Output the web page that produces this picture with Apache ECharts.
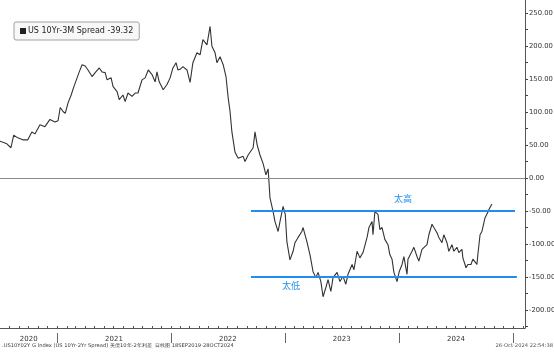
<!DOCTYPE html>
<html>
<head>
<meta charset="utf-8">
<script src="https://cdn.jsdelivr.net/npm/echarts@6/dist/echarts.min.js"></script>
<style>
  html, body { margin: 0; padding: 0; background: #fff; }
  #main { width: 554px; height: 352px; }
</style>
</head>
<body>
<div id="main"></div>
<script>
var seriesName = 'US 10Yr-3M Spread';

var dates = [
  '2020-06-16','2020-07-02','2020-07-24','2020-08-06','2020-08-15','2020-08-28','2020-09-13','2020-09-29',
  '2020-10-12','2020-10-22','2020-11-07','2020-11-23','2020-12-09','2020-12-25',
  '2021-01-04','2021-01-11','2021-01-20','2021-01-27','2021-02-05','2021-02-15','2021-02-24','2021-03-06',
  '2021-03-12','2021-03-22','2021-04-01','2021-04-10','2021-04-23','2021-05-03','2021-05-16','2021-05-25',
  '2021-06-04','2021-06-10','2021-06-23','2021-06-29','2021-07-12','2021-07-19','2021-07-31','2021-08-07',
  '2021-08-16','2021-08-29','2021-09-08','2021-09-17','2021-09-30','2021-10-10','2021-10-20','2021-11-01',
  '2021-11-11','2021-11-17','2021-11-24','2021-12-07','2021-12-19','2021-12-29',
  '2022-01-07','2022-01-17','2022-01-23','2022-01-30','2022-02-08','2022-02-21','2022-03-03','2022-03-12',
  '2022-03-25','2022-04-04','2022-04-13','2022-04-26','2022-05-06','2022-05-12','2022-05-22','2022-05-28',
  '2022-06-07','2022-06-17','2022-06-26','2022-07-03','2022-07-09','2022-07-15','2022-07-25','2022-08-04',
  '2022-08-10','2022-08-20','2022-08-26','2022-09-05','2022-09-11','2022-09-21','2022-09-27','2022-10-04',
  '2022-10-13','2022-10-23','2022-11-01','2022-11-08','2022-11-14','2022-11-24','2022-11-30','2022-12-10',
  '2022-12-16','2022-12-26',
  '2023-01-02','2023-01-07','2023-01-17','2023-01-27','2023-02-02','2023-02-12','2023-02-24','2023-02-28',
  '2023-03-12','2023-03-22','2023-04-01','2023-04-10','2023-04-17','2023-04-26','2023-05-03','2023-05-12',
  '2023-05-19','2023-05-28','2023-06-04','2023-06-17','2023-06-26','2023-07-06','2023-07-15','2023-07-22',
  '2023-08-04','2023-08-10','2023-08-20','2023-08-29','2023-09-08','2023-09-21','2023-09-27','2023-10-07',
  '2023-10-10','2023-10-16','2023-10-26','2023-11-01','2023-11-08','2023-11-17','2023-11-27','2023-12-03',
  '2023-12-10','2023-12-16','2023-12-26',
  '2024-01-02','2024-01-11','2024-01-17','2024-01-27','2024-01-30','2024-02-12','2024-02-18','2024-02-28',
  '2024-03-05','2024-03-15','2024-03-21','2024-03-31','2024-04-06','2024-04-16','2024-04-22','2024-05-02',
  '2024-05-08','2024-05-18','2024-05-24','2024-06-03','2024-06-09','2024-06-19','2024-06-25','2024-07-05',
  '2024-07-11','2024-07-21','2024-07-24','2024-08-03','2024-08-09','2024-08-19','2024-08-25','2024-09-07',
  '2024-09-10','2024-09-17','2024-09-23','2024-10-03','2024-10-12','2024-10-15','2024-10-25'
];

var spread = [
  55, 56, 52, 46, 65, 61, 58, 58,
  70, 67, 81, 78, 89, 85,
  87, 107, 101, 98, 114, 126, 139, 152,
  160, 172, 170, 164, 154, 160, 167, 161,
  160, 149, 152, 139, 131, 119, 126, 116,
  129, 124, 129, 129, 149, 152, 164, 157,
  146, 161, 146, 134, 142, 152,
  167, 175, 164, 165, 169, 164, 145, 175,
  190, 187, 210, 202, 230, 200, 190, 175,
  184, 172, 154, 122, 101, 70, 39, 30,
  31, 33, 25, 35, 33, 46, 70, 50,
  35, 22, 5, 14, -30, -51, -66, -81,
  -66, -43,
  -55, -96, -124, -111, -98, -90, -81, -75,
  -96, -116, -142, -151, -143, -157, -180, -166,
  -154, -172, -151, -143, -157, -149, -161, -146,
  -131, -139, -111, -121, -113, -90, -75, -66,
  -86, -51, -55, -78, -75, -93, -101, -116,
  -123, -143, -157,
  -142, -131, -119, -146, -123, -111, -105, -119,
  -126, -108, -111, -101, -86, -70, -75, -83,
  -90, -98, -86, -98, -111, -101, -111, -105,
  -113, -108, -121, -136, -131, -131, -123, -131,
  -116, -86, -81, -60, -52, -48, -39.32
];

var xStart = '2020-07-02';
var xEnd = '2025-02-08';
var yMin = -227.4;
var yMax = 270.1;
var yTickValues = [-225, -200, -175, -150, -125, -100, -75, -50, -25, 0, 25, 50, 75, 100, 125, 150, 175, 200, 225, 250];
var yLabelValues = [-200, -150, -100, -50, 0, 50, 100, 150, 200, 250];
var yearNames = ['2020', '2021', '2022', '2023', '2024'];
var yearLabelDates = ['2020-10-02', '2021-07-02', '2022-07-02', '2023-07-02', '2024-07-02'];
var yearStarts = ['2021-01-01', '2022-01-01', '2023-01-01', '2024-01-01', '2025-01-01'];

var highLevel = -50, lowLevel = -150;
var bandFrom = '2022-09-14', highTo = '2025-01-07', lowTo = '2025-01-13';
var highText = '太高', lowText = '太低';
var highTextAt = ['2024-01-14', -31.7];
var lowTextAt = ['2023-01-20', -163.7];

function ts(s) {
  var p = s.split('-');
  return new Date(+p[0], +p[1] - 1, +p[2]).getTime();
}

var lastValue = spread[spread.length - 1];
var seriesData = dates.map(function (d, i) { return [ts(d), spread[i]]; });
var yearLabelTs = yearLabelDates.map(ts);

// monthly minor ticks along the bottom
var monthTicks = [];
for (var y = 2020; y <= 2025; y++) {
  for (var m = 0; m < 12; m++) {
    var t = new Date(y, m, 1).getTime();
    if (t > ts(xStart) && t < ts(xEnd)) monthTicks.push(t);
  }
}

var blue = '#1f8ef1';
var chart = echarts.init(document.getElementById('main'));

var option = {
  animation: false,
  backgroundColor: '#fff',
  grid: { left: 0, right: 29, top: 0, bottom: 24, outerBoundsMode: 'none' },
  legend: {
    left: 14,
    top: 22,
    padding: [5, 6, 5, 6],
    backgroundColor: '#f8f8f8',
    borderColor: '#a0a0a0',
    borderWidth: 1,
    borderRadius: 2,
    icon: 'rect',
    itemWidth: 6,
    itemHeight: 6,
    itemGap: 2,
    textStyle: { fontFamily: 'DejaVu Sans', fontSize: 8, color: '#222', padding: [0, 0, 0, -3] },
    formatter: function (name) { return name + ' ' + lastValue.toFixed(2); },
    data: [seriesName]
  },
  xAxis: [{
    type: 'value',
    min: ts(xStart),
    max: ts(xEnd),
    axisLine: { show: true, onZero: false, lineStyle: { color: '#555', width: 1 } },
    axisTick: { show: true, inside: true, length: 2, customValues: monthTicks, lineStyle: { color: '#555' } },
    axisLabel: {
      customValues: yearLabelTs,
      formatter: function (v) {
        var i = yearLabelTs.indexOf(v);
        return i >= 0 ? yearNames[i] : '';
      },
      fontFamily: 'DejaVu Sans',
      fontSize: 7,
      color: '#333',
      margin: 8
    },
    splitLine: { show: false }
  }, {
    type: 'value',
    position: 'bottom',
    offset: 5,
    min: ts(xStart),
    max: ts(xEnd),
    axisLine: { show: false, onZero: false },
    axisTick: { show: true, length: 10, customValues: yearStarts.map(ts), lineStyle: { color: '#666' } },
    axisLabel: { show: false },
    splitLine: { show: false }
  }],
  yAxis: {
    type: 'value',
    position: 'right',
    min: yMin,
    max: yMax,
    axisLine: { show: true, onZero: false, lineStyle: { color: '#555', width: 1 } },
    axisTick: { show: true, length: 3, customValues: yTickValues, lineStyle: { color: '#444' } },
    axisLabel: {
      customValues: yLabelValues,
      formatter: function (v) { return v.toFixed(2); },
      fontFamily: 'DejaVu Sans',
      fontSize: 6.8,
      color: '#333',
      margin: 4
    },
    splitLine: { show: false }
  },
  series: [{
    name: seriesName,
    type: 'line',
    data: seriesData,
    showSymbol: false,
    symbol: 'none',
    clip: true,
    color: '#222',
    lineStyle: { color: '#333', width: 1.1 },
    markLine: {
      silent: true,
      symbol: 'none',
      label: { show: false },
      lineStyle: { type: 'solid' },
      data: [
        { yAxis: 0, lineStyle: { color: '#8a8a8a', width: 1, type: 'solid' } },
        [{ coord: [ts(bandFrom), highLevel], lineStyle: { color: blue, width: 2, type: 'solid' } },
         { coord: [ts(highTo), highLevel] }],
        [{ coord: [ts(bandFrom), lowLevel], lineStyle: { color: blue, width: 2, type: 'solid' } },
         { coord: [ts(lowTo), lowLevel] }]
      ]
    },
    markPoint: {
      silent: true,
      symbolSize: 0,
      label: {
        show: true,
        position: 'inside',
        color: blue,
        fontFamily: 'Noto Sans CJK SC',
        fontSize: 9
      },
      data: [
        { coord: [ts(highTextAt[0]), highTextAt[1]], value: highText, label: { formatter: highText } },
        { coord: [ts(lowTextAt[0]), lowTextAt[1]], value: lowText, label: { formatter: lowText } }
      ]
    }
  }],
  graphic: [
    {
      type: 'text', left: 2, top: 343,
      style: {
        text: '.US10Y02Y G Index (US 10Yr-2Yr Spread) 美债10年-2年利差  日线图 18SEP2019-28OCT2024',
        fontFamily: 'DejaVu Sans', fontSize: 5.2, fill: '#555'
      }
    },
    {
      type: 'text', left: 310, top: 343,
      style: { text: 'Copyright\u00a9 2024 Bloomberg Finance L.P.', fontFamily: 'DejaVu Sans', fontSize: 5.2, fill: '#555' }
    },
    {
      type: 'text', right: 1, top: 343,
      style: { text: '26-Oct-2024 22:54:38', fontFamily: 'DejaVu Sans', fontSize: 5.2, fill: '#555' }
    }
  ]
};

chart.setOption(option);

// last-value tag on the right axis
var tagY = chart.convertToPixel({ yAxisIndex: 0 }, lastValue);
var tagX = chart.convertToPixel({ xAxisIndex: 0 }, ts(xEnd)) + 2;
chart.setOption({
  graphic: [{
    type: 'group',
    id: 'lastTag',
    children: [{
      type: 'polygon',
      shape: { points: [[tagX, tagY], [tagX + 5, tagY - 5.5], [tagX + 29, tagY - 5.5], [tagX + 29, tagY + 5.5], [tagX + 5, tagY + 5.5]] },
      style: { fill: '#3b3b3b' }
    }, {
      type: 'text',
      x: tagX + 5,
      y: tagY,
      style: { text: lastValue.toFixed(2), fontFamily: 'DejaVu Sans', fontSize: 6.5, fill: '#fff', verticalAlign: 'middle' }
    }]
  }]
});
</script>
</body>
</html>
